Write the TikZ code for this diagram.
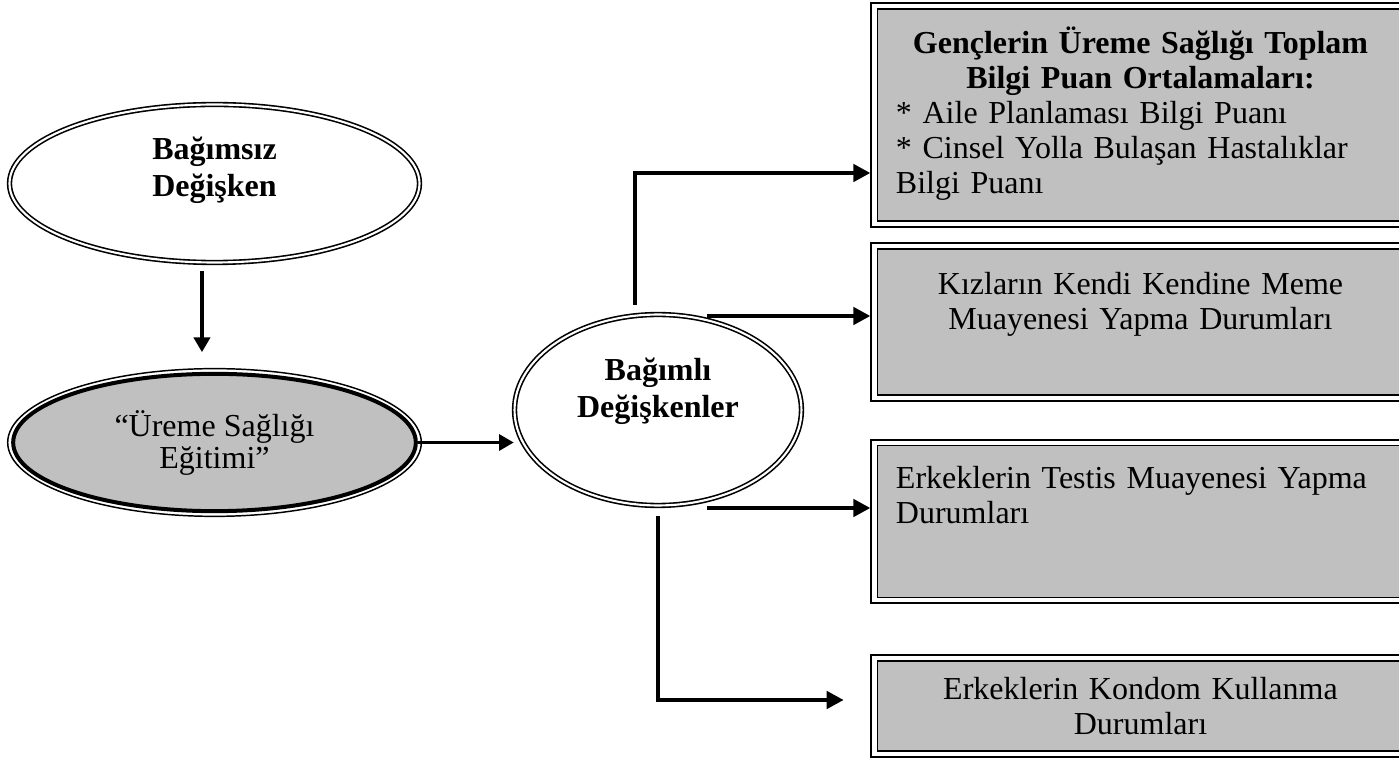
\documentclass[tikz,border=0pt]{standalone}
\usepackage{fontspec}
\setmainfont{Liberation Serif}
\usetikzlibrary{shapes.geometric,arrows.meta,positioning,fit}
\definecolor{boxgray}{RGB}{192,192,192}
\tikzset{
  oval/.style={ellipse, draw, double, line width=0.6pt, double distance=0.8pt, inner sep=0pt, align=center, font=\fontsize{12}{13.7}\selectfont\bfseries},
  panel/.style={draw, line width=0.4pt, fill=boxgray, minimum width=197.6pt, inner sep=0pt},
  frame/.style={draw, line width=0.75pt, inner sep=1.9pt},
  txt/.style={inner sep=0pt, text width=183.4pt, font=\fontsize{12}{13.1}\selectfont},
  arr/.style={line width=1.5pt, -{Triangle[length=5.5pt,width=6pt]}},
  thickarr/.style={line width=1.8pt, -{Triangle[length=6.4pt,width=6.4pt]}}
}
\begin{document}
\begin{tikzpicture}[x=0.375pt, y=-0.375pt]
        \useasboundingbox (0,0) rectangle (1399,759);
        % left column
        \node[oval, minimum width=153.75pt, minimum height=59.25pt, text depth=12.7pt] (e1) at (214.5,183.5) {Bağımsız\\Değişken};
        \node[ellipse, draw, line width=0.55pt, minimum width=155.1pt, minimum height=55.4pt] (e2o) at (214.5,442.5) {};
        \node[ellipse, draw, line width=1.5pt, fill=boxgray, minimum width=151pt, minimum height=51.5pt, inner sep=0pt, align=center, font=\fontsize{12}{12}\selectfont] (e2) at (e2o) {“Üreme Sağlığı\\Eğitimi”};
        \node[oval, minimum width=107.6pt, minimum height=71.6pt, text depth=16.8pt] (e3) at (658,410) {Bağımlı\\Değişkenler};
        % right column
        \node[panel, minimum height=79.5pt] (b1) at (1140.5,115) {};
        \node[panel, minimum height=54.75pt] (b2) at (1140.5,322) {};
        \node[panel, minimum height=57pt] (b3) at (1140.5,521.5) {};
        \node[panel, minimum height=33.75pt] (b4) at (1140.5,706) {};
        \foreach \b in {b1,b2,b3,b4} \node[frame, fit=(\b)] (f\b) {};
        \node[txt, align=left, below=6.75pt of b1.north] (t1) {{\centering\bfseries Gençlerin Üreme Sağlığı Toplam\\Bilgi Puan Ortalamaları:\par}{*} Aile Planlaması Bilgi Puanı\\{}{*} Cinsel Yolla Bulaşan Hastalıklar\\Bilgi Puanı};
        \node[txt, align=center, below=8.6pt of b2.north] (t2) {Kızların Kendi Kendine Meme\\Muayenesi Yapma Durumları};
        \node[txt, align=left, below=7.9pt of b3.north] (t3) {Erkeklerin Testis Muayenesi Yapma\\Durumları};
        \node[txt, align=center, below=6pt of b4.north] (t4) {Erkeklerin Kondom Kullanma\\Durumları};
        % connectors
        \draw[arr, shorten <=2.8pt, shorten >=5.9pt] ([xshift=-4.7pt]e1.south) -- ([xshift=-4.7pt]e2o.north);
        \draw[arr, line width=1.2pt] (e2.east) -- (e2.east -| e3.west);
        \coordinate (s1) at (635,305);
        \coordinate (k1) at (635,173);
        \coordinate (s2) at (707,316);
        \coordinate (s3) at (707,508);
        \coordinate (s4) at (658,516);
        \coordinate (k4) at (658,700);
        \draw[thickarr] (s1) -- (k1) -- (k1 -| fb1.west);
        \draw[thickarr] (s2) -- (s2 -| fb2.west);
        \draw[thickarr] (s3) -- (s3 -| fb3.west);
        \draw[thickarr, shorten >=10pt] (s4) -- (k4) -- (k4 -| fb4.west);
    \end{tikzpicture}
\end{document}
